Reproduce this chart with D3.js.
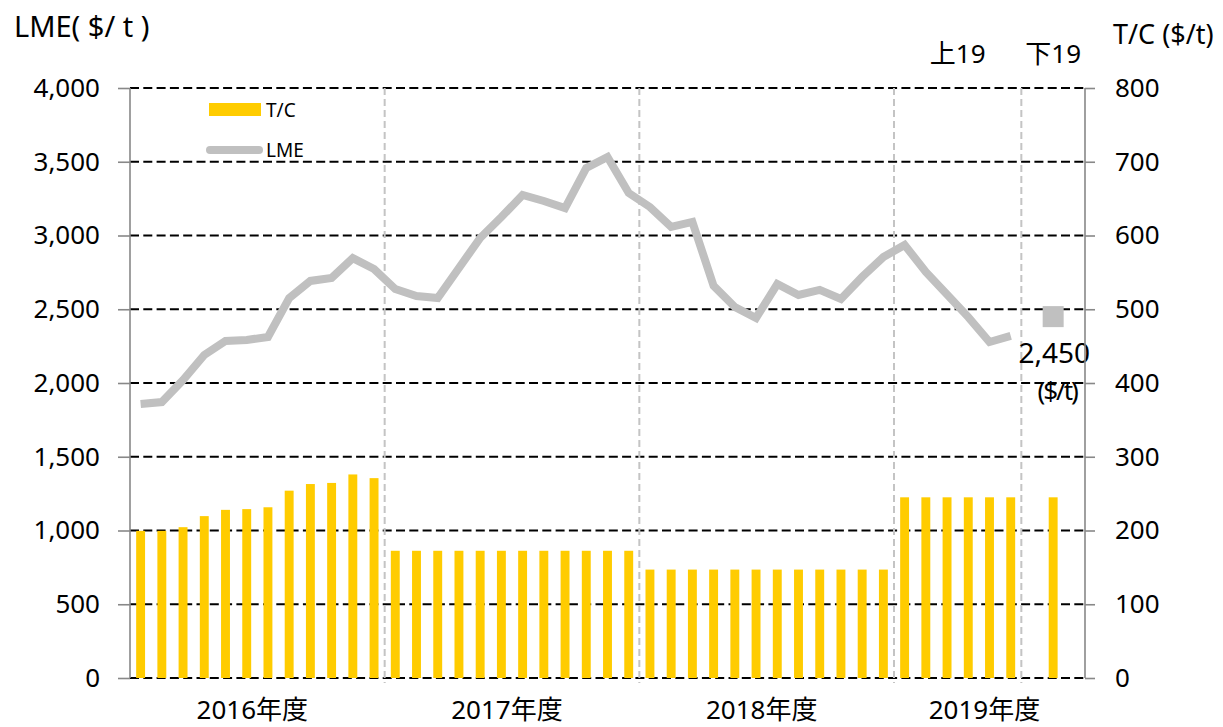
<!DOCTYPE html>
<html><head><meta charset="utf-8">
<script src="https://cdn.jsdelivr.net/npm/d3@7/dist/d3.min.js"></script>
<style>
body{margin:0;background:#fff;}
svg{display:block;font-family:"Noto Sans","Noto Sans CJK JP",sans-serif;}
</style></head>
<body><svg id="c" width="1223" height="727"></svg>
<script>
// ---- data ----
const lmeValues = [1858,1871,2020,2190,2285,2292,2312,2576,2692,2712,2847,2773,
                   2637,2590,2576,2780,2983,3125,3275,3234,3186,3458,3532,3288,
                   3193,3058,3092,2658,2515,2441,2671,2597,2631,2570,2719,2854,
                   2936,2753,2600,2447,2278,2319];
const tcValues  = [199.5,199.5,204.5,219.5,228,229,231.5,254,263,264.5,276,271,
                   172.5,172.5,172.5,172.5,172.5,172.5,172.5,172.5,172.5,172.5,172.5,172.5,
                   147,147,147,147,147,147,147,147,147,147,147,147,
                   245,245,245,245,245,245];
const tcSecondHalf2019 = 245;
const lmeForecast = 2450;
const yearLabels = ["2016年度","2017年度","2018年度","2019年度"];
const yearStartSlots = [0,12,24,36];
const yearEndSlots = [12,24,36,45];
const halfLabels = ["上19","下19"];
const leftTicks = [0,500,1000,1500,2000,2500,3000,3500,4000];
const rightTicks = [0,100,200,300,400,500,600,700,800];
const totalSlots = 45;
const forecastSlot = 43;

// ---- layout ----
const L = 130, R = 1085, T = 88, B = 678;
const svg = d3.select("#c");
const slots = d3.range(totalSlots);
const x = d3.scaleBand().domain(slots).range([L,R]).paddingInner(0.58).paddingOuter(0.29);
const step = x.step();
const cx = i => x(i) + x.bandwidth()/2;
const yL = d3.scaleLinear().domain([0,4000]).range([B,T]);
const yR = d3.scaleLinear().domain([0,800]).range([B,T]);
const fmt = d3.format(",");

// gridlines
svg.append("g").selectAll("line").data(leftTicks).join("line")
  .attr("x1",L).attr("x2",R).attr("y1",d=>yL(d)).attr("y2",d=>yL(d))
  .attr("stroke","#000").attr("stroke-width",2).attr("stroke-dasharray","9,4.3");

// vertical separators
const sepSlots = [12,24,36,42];
svg.append("g").selectAll("line").data(sepSlots).join("line")
  .attr("x1",d=>L+d*step).attr("x2",d=>L+d*step).attr("y1",T).attr("y2",B+5)
  .attr("stroke","#c4c4c4").attr("stroke-width",2).attr("stroke-dasharray","7,4");

// bars
const barData = tcValues.map((v,i)=>({slot:i,v})).concat([{slot:forecastSlot,v:tcSecondHalf2019}]);
svg.append("g").selectAll("rect").data(barData).join("rect")
  .attr("x",d=>x(d.slot)).attr("width",x.bandwidth())
  .attr("y",d=>yR(d.v)).attr("height",d=>B-yR(d.v))
  .attr("fill","#FFCC00");

// LME line
const line = d3.line().x((d,i)=>cx(i)).y(d=>yL(d));
svg.append("path").datum(lmeValues).attr("d",line)
  .attr("fill","none").attr("stroke","#C0C0C0").attr("stroke-width",8)
  .attr("stroke-linejoin","miter").attr("stroke-linecap","butt");

// forecast square
const sq = 21;
svg.append("rect").attr("x",cx(forecastSlot)-sq/2).attr("y",yL(lmeForecast)-sq/2)
  .attr("width",sq).attr("height",sq).attr("fill","#C0C0C0");
svg.append("text").attr("x",cx(forecastSlot)+1).attr("y",363).attr("text-anchor","middle")
  .attr("font-size",28).text(fmt(lmeForecast));
svg.append("text").attr("x",cx(forecastSlot)+4).attr("y",400).attr("text-anchor","middle")
  .attr("font-size",26).attr("letter-spacing",-2).text("($/t)");

// axes
const axL = d3.axisLeft(yL).tickValues(leftTicks).tickSize(12).tickPadding(18).tickFormat(fmt);
const gL = svg.append("g").attr("transform",`translate(${L},0)`).call(axL);
const axR = d3.axisRight(yR).tickValues(rightTicks).tickSize(10).tickPadding(20).tickFormat(d3.format("d"));
const gR = svg.append("g").attr("transform",`translate(${R},0)`).call(axR);
[gL,gR].forEach(g=>{
  g.select(".domain").attr("stroke","#888").attr("stroke-width",1.6);
  g.selectAll(".tick line").attr("stroke","#888").attr("stroke-width",1.6);
  g.selectAll(".tick text").attr("font-size",26).attr("fill","#000").attr("font-family","'Noto Sans',sans-serif");
});
gL.select(".domain").attr("d",`M0,${T}V${B}`);
gR.select(".domain").attr("d",`M0,${T}V${B}`);

// year labels
svg.append("g").selectAll("text").data(yearLabels).join("text")
  .attr("x",(d,i)=>L+((yearStartSlots[i]+yearEndSlots[i])/2)*step - 5)
  .attr("y",719).attr("text-anchor","middle").attr("font-size",26).text(d=>d);

// half-year labels
svg.append("text").attr("x",L+39*step).attr("y",63).attr("text-anchor","middle").attr("font-size",26).text(halfLabels[0]);
svg.append("text").attr("x",cx(forecastSlot)).attr("y",63).attr("text-anchor","middle").attr("font-size",26).text(halfLabels[1]);

// axis titles
svg.append("text").attr("x",14).attr("y",37).attr("font-size",29).text("LME( $/ t )");
svg.append("text").attr("x",1113).attr("y",44).attr("font-size",27).text("T/C ($/t)");

// legend
svg.append("rect").attr("x",209).attr("y",103).attr("width",52).attr("height",13).attr("fill","#FFCC00");
svg.append("text").attr("x",266).attr("y",117).attr("font-size",19).text("T/C");
svg.append("line").attr("x1",210).attr("x2",259).attr("y1",150).attr("y2",150)
  .attr("stroke","#C0C0C0").attr("stroke-width",8).attr("stroke-linecap","round");
svg.append("text").attr("x",266).attr("y",157).attr("font-size",19).text("LME");
</script></body></html>
